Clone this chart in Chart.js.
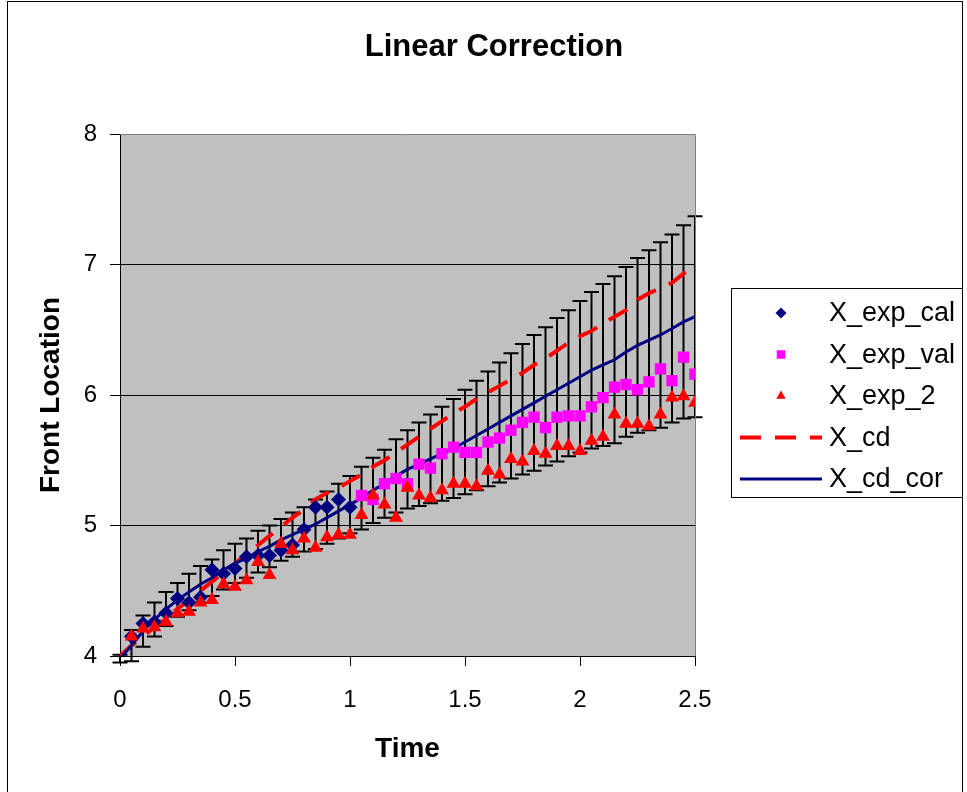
<!DOCTYPE html>
<html>
<head>
<meta charset="utf-8">
<script src="https://cdn.jsdelivr.net/npm/chart.js@4.4.0/dist/chart.umd.min.js"></script>
<style>
  html, body { margin: 0; padding: 0; background: #fff; }
  #wrap { width: 967px; height: 792px; }
</style>
</head>
<body>
<div id="wrap"><canvas id="chart" width="967" height="792"></canvas></div>
<script>
// time grid used by the model curves (and their error bars)
const timeLine = [0, 0.05, 0.1, 0.15, 0.2, 0.25, 0.3, 0.35, 0.4, 0.45, 0.5,
  0.55, 0.6, 0.65, 0.7, 0.75, 0.8, 0.85, 0.9, 0.95, 1.0,
  1.05, 1.1, 1.15, 1.2, 1.25, 1.3, 1.35, 1.4, 1.45, 1.5,
  1.55, 1.6, 1.65, 1.7, 1.75, 1.8, 1.85, 1.9, 1.95, 2.0,
  2.05, 2.1, 2.15, 2.2, 2.25, 2.3, 2.35, 2.4, 2.45, 2.5];

// X_exp_cal : t = 0.05 .. 1.0
const expCal = [4.15, 4.25, 4.26, 4.33, 4.44, 4.41, 4.45, 4.66, 4.63, 4.67,
  4.76, 4.77, 4.77, 4.81, 4.85, 4.97, 5.14, 5.14, 5.20, 5.14];

// X_exp_val : t = 1.05 .. 2.5
const expVal = [5.23, 5.20, 5.32, 5.36, 5.32, 5.47, 5.44, 5.55, 5.60, 5.56,
  5.56, 5.64, 5.67, 5.73, 5.79, 5.83, 5.75, 5.83, 5.84, 5.84,
  5.91, 5.98, 6.06, 6.08, 6.04, 6.10, 6.20, 6.11, 6.29, 6.16];

// X_exp_2 : t = 0.05 .. 2.5
const exp2 = [4.15, 4.21, 4.22, 4.26, 4.33, 4.34, 4.41, 4.43, 4.55, 4.53,
  4.58, 4.72, 4.62, 4.86, 4.81, 4.90, 4.83, 4.91, 4.93, 4.93,
  5.08, 5.23, 5.16, 5.06, 5.29, 5.23, 5.21, 5.27, 5.32, 5.32,
  5.30, 5.42, 5.39, 5.51, 5.49, 5.57, 5.55, 5.61, 5.61, 5.57,
  5.65, 5.68, 5.85, 5.78, 5.78, 5.76, 5.85, 5.98, 5.99, 5.94];

// X_cd : t = 0 .. 2.5
const xCd = [4.00, 4.08, 4.15, 4.22, 4.29, 4.36, 4.43, 4.50, 4.57, 4.64, 4.71,
  4.78, 4.85, 4.92, 4.99, 5.06, 5.12, 5.20, 5.25, 5.29, 5.34,
  5.39, 5.45, 5.50, 5.56, 5.62, 5.68, 5.74, 5.80, 5.86, 5.91,
  5.97, 6.02, 6.07, 6.12, 6.17, 6.23, 6.28, 6.34, 6.40, 6.45,
  6.49, 6.55, 6.60, 6.65, 6.73, 6.78, 6.82, 6.86, 6.93, 6.98];

// X_cd_cor : t = 0 .. 2.5
const xCdCor = [3.98, 4.08, 4.19, 4.28, 4.36, 4.43, 4.49, 4.55, 4.60, 4.66, 4.71,
  4.75, 4.80, 4.84, 4.89, 4.93, 4.97, 5.01, 5.06, 5.11, 5.16,
  5.21, 5.27, 5.32, 5.38, 5.43, 5.47, 5.51, 5.55, 5.59, 5.64,
  5.69, 5.74, 5.79, 5.84, 5.89, 5.94, 5.99, 6.04, 6.09, 6.14,
  6.19, 6.23, 6.27, 6.33, 6.38, 6.42, 6.46, 6.51, 6.56, 6.60];

// +/- error on X_cd_cor
const xCdCorErr = [0.03, 0.12, 0.12, 0.13, 0.13, 0.13, 0.14, 0.14, 0.14, 0.15, 0.15,
  0.15, 0.16, 0.16, 0.16, 0.17, 0.17, 0.19, 0.20, 0.21, 0.22,
  0.24, 0.25, 0.26, 0.28, 0.30, 0.32, 0.34, 0.36, 0.38, 0.40,
  0.42, 0.44, 0.46, 0.48, 0.50, 0.52, 0.53, 0.55, 0.56, 0.58,
  0.60, 0.62, 0.64, 0.65, 0.67, 0.69, 0.71, 0.72, 0.74, 0.77];

const xTicks = [0, 0.5, 1, 1.5, 2, 2.5];
const yTicks = [4, 5, 6, 7, 8];

const FONT = "'Liberation Sans', Arial, sans-serif";

const pts = (xs, ys) => ys.map((y, i) => ({ x: xs[i], y }));

const framePlugin = {
  id: 'frame',
  beforeDraw(chart) {
    const { ctx, chartArea: a } = chart;
    ctx.save();
    ctx.fillStyle = '#fff';
    ctx.fillRect(0, 0, chart.width, chart.height);
    ctx.strokeStyle = '#000';
    ctx.lineWidth = 1;
    ctx.strokeRect(7.5, 1.5, 955, 800);
    ctx.fillStyle = '#c0c0c0';
    ctx.fillRect(a.left, a.top, a.right - a.left, a.bottom - a.top);
    ctx.restore();
  },
  beforeDatasetsDraw(chart) {
    // error bars on X_cd_cor
    const { ctx, scales: { x, y } } = chart;
    ctx.save();
    ctx.strokeStyle = '#000';
    ctx.lineWidth = 2;
    timeLine.forEach((t, i) => {
      const px = x.getPixelForValue(t);
      const top = y.getPixelForValue(xCdCor[i] + xCdCorErr[i]);
      const bot = y.getPixelForValue(xCdCor[i] - xCdCorErr[i]);
      ctx.beginPath();
      ctx.moveTo(px, top); ctx.lineTo(px, bot);
      ctx.moveTo(px - 7.5, top); ctx.lineTo(px + 7.5, top);
      ctx.moveTo(px - 7.5, bot); ctx.lineTo(px + 7.5, bot);
      ctx.stroke();
    });
    ctx.restore();
  },
  afterDraw(chart) {
    const { ctx, chartArea: a } = chart;
    ctx.save();
    // plot frame top/right
    ctx.strokeStyle = '#808080';
    ctx.lineWidth = 1;
    ctx.beginPath();
    ctx.moveTo(a.left, a.top + 0.5); ctx.lineTo(a.right + 0.5, a.top + 0.5);
    ctx.lineTo(a.right + 0.5, a.bottom);
    ctx.stroke();

    // title
    ctx.fillStyle = '#000';
    ctx.font = `bold 31px ${FONT}`;
    ctx.textAlign = 'center';
    ctx.textBaseline = 'middle';
    ctx.fillText('Linear Correction', 494, 47);

    // legend
    const bx = 731, by = 288, bw = 231, bh = 209;
    ctx.fillStyle = '#fff';
    ctx.fillRect(bx, by, bw, bh);
    ctx.strokeStyle = '#000';
    ctx.strokeRect(bx + 0.5, by + 0.5, bw, bh);
    const rowH = 41.5;
    ctx.font = `27px ${FONT}`;
    ctx.textAlign = 'left';
    chart.data.datasets.forEach((ds, i) => {
      const yy = by + 25 + i * rowH;
      if (ds.showLine) {
        ctx.save();
        ctx.strokeStyle = ds.borderColor;
        ctx.lineWidth = ds.borderWidth;
        ctx.setLineDash(ds.borderDash || []);
        ctx.beginPath();
        ctx.moveTo(740, yy); ctx.lineTo(822, yy);
        ctx.stroke();
        ctx.restore();
      } else {
        ctx.fillStyle = ds.backgroundColor;
        Chart.helpers.drawPoint(ctx, { pointStyle: ds.pointStyle, radius: ds.legendRadius, rotation: 0, borderWidth: 0 }, 781, yy);
      }
      ctx.fillStyle = '#000';
      ctx.fillText(ds.label, 829, yy + 1);
    });
    ctx.restore();
  }
};

new Chart(document.getElementById('chart'), {
  type: 'scatter',
  data: {
    datasets: [
      {
        label: 'X_exp_cal',
        data: pts(timeLine.slice(1, 21), expCal),
        pointStyle: 'rectRot',
        pointRadius: 7.5,
        legendRadius: 5.5,
        backgroundColor: '#000080',
        borderColor: '#000080',
        pointBorderWidth: 0,
        order: 3
      },
      {
        label: 'X_exp_val',
        data: pts(timeLine.slice(21), expVal),
        pointStyle: 'rect',
        pointRadius: 8,
        legendRadius: 6,
        backgroundColor: '#ff00ff',
        borderColor: '#ff00ff',
        pointBorderWidth: 0,
        order: 2
      },
      {
        label: 'X_exp_2',
        data: pts(timeLine.slice(1), exp2),
        pointStyle: 'triangle',
        pointRadius: 8,
        legendRadius: 5.5,
        backgroundColor: '#ff0000',
        borderColor: '#ff0000',
        pointBorderWidth: 0,
        order: 1
      },
      {
        label: 'X_cd',
        data: pts(timeLine, xCd),
        showLine: true,
        borderColor: '#ff0000',
        backgroundColor: '#ff0000',
        borderWidth: 4,
        borderDash: [21, 14],
        pointRadius: 0,
        order: 5
      },
      {
        label: 'X_cd_cor',
        data: pts(timeLine, xCdCor),
        showLine: true,
        borderColor: '#000080',
        backgroundColor: '#000080',
        borderWidth: 3,
        pointRadius: 0,
        order: 4
      }
    ]
  },
  options: {
    responsive: false,
    animation: false,
    events: [],
    layout: { padding: { left: 0, right: 272, top: 134, bottom: 0 } },
    plugins: {
      legend: { display: false },
      title: { display: false },
      tooltip: { enabled: false }
    },
    scales: {
      x: {
        type: 'linear',
        min: 0,
        max: 2.5,
        afterFit: s => { s.height = 136; },
        afterBuildTicks: s => { s.ticks = xTicks.map(v => ({ value: v })); },
        ticks: {
          color: '#000',
          font: { family: FONT, size: 24 },
          padding: 20,
          maxRotation: 0,
          callback: v => String(v)
        },
        grid: { drawOnChartArea: false, tickLength: 10, tickColor: '#000', tickWidth: 1 },
        border: { color: '#000', width: 1 },
        title: {
          display: true,
          text: 'Time',
          color: '#000',
          font: { family: FONT, size: 28, weight: 'bold' },
          padding: { top: 0, bottom: 26 }
        }
      },
      y: {
        type: 'linear',
        min: 4,
        max: 8,
        afterFit: s => { s.width = 120; },
        afterBuildTicks: s => { s.ticks = yTicks.map(v => ({ value: v })); },
        ticks: {
          color: '#000',
          font: { family: FONT, size: 24 },
          padding: 13,
          callback: v => String(v)
        },
        grid: {
          color: c => (c.tick && (c.tick.value === 8 || c.tick.value === 4)) ? 'rgba(0,0,0,0)' : '#000',
          lineWidth: 1,
          tickLength: 10,
          tickColor: '#000'
        },
        border: { color: '#000', width: 1 },
        title: {
          display: true,
          text: 'Front Location',
          color: '#000',
          font: { family: FONT, size: 28, weight: 'bold' },
          padding: { top: 34, bottom: 0 }
        }
      }
    }
  },
  plugins: [framePlugin]
});
</script>
</body>
</html>
